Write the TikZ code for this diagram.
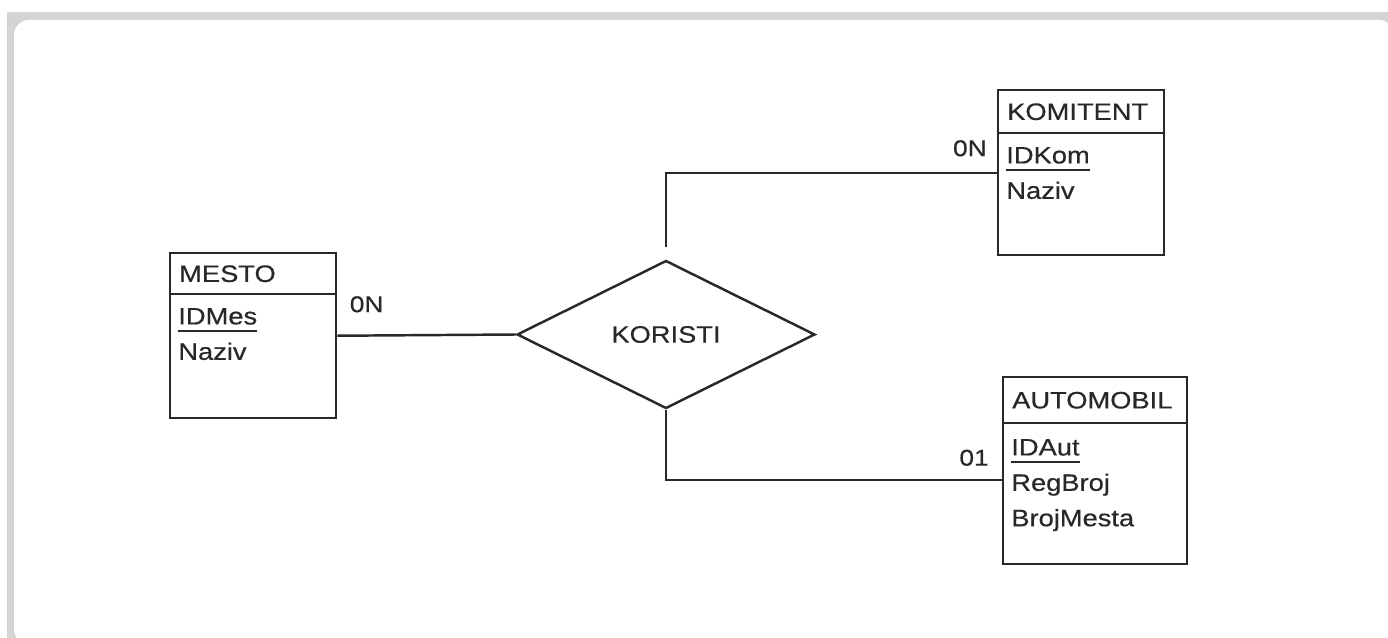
\documentclass[tikz,border=0pt]{standalone}
\usepackage{fontspec}
\setmainfont{Liberation Sans}[FakeStretch=1.15,FakeBold=0.5]
\usetikzlibrary{shapes.geometric,positioning}
\definecolor{Ink}{RGB}{40,40,40}
\definecolor{Frame}{RGB}{212,212,212}
% underlined key attribute
\newcommand{\pkey}[1]{\setbox0\hbox{#1}\rlap{\vrule width\wd0 height -3pt depth 4.2pt}#1}
\tikzset{
  ebox/.style={rectangle,draw=Ink,line width=1.4pt,fill=white,anchor=north west,
               inner sep=0pt},
  ehead/.style={rectangle,draw=Ink,line width=1.4pt,anchor=north west,
                inner xsep=0.18cm,inner ysep=0pt,align=left,text=Ink,
                font=\fontsize{13.5}{16}\selectfont},
  eattr/.style={inner sep=0pt,text height=10pt,text depth=3.5pt,text=Ink,
                font=\fontsize{13.5}{16}\selectfont},
  rel/.style={diamond,draw=Ink,line width=1.4pt,fill=white,inner sep=0pt,
              text=Ink,font=\fontsize{13.5}{16}\selectfont},
  elink/.style={draw=Ink,line width=1.4pt},
  card/.style={inner sep=0pt,text=Ink,font=\fontsize{13}{15}\selectfont},
}

\begin{document}
\begin{tikzpicture}
  \useasboundingbox (0,0) rectangle (27.76,-12.76);
  % grey page edge
  \fill[Frame] (0.14,-0.24) rectangle (27.76,-12.76);
  \fill[white,rounded corners=0.3cm] (0.28,-0.40) rectangle (27.88,-12.88);
  %
  \node[ebox,minimum width=3.32cm,minimum height=3.30cm] (mesto) at (3.38,-5.04) {};
  \node[ehead,text width=2.96cm,minimum height=0.82cm] (mesto-h) at (mesto.north west) {MESTO};
  \node[eattr,below right=0.22cm and 0.18cm of mesto-h.south west] (mesto-1) {\pkey{IDMes}};
  \node[eattr,below=0.22cm of mesto-1.south west,anchor=north west] (mesto-2) {Naziv};
  %
  \node[ebox,minimum width=3.32cm,minimum height=3.30cm] (komitent) at (19.94,-1.78) {};
  \node[ehead,text width=2.96cm,minimum height=0.86cm] (komitent-h) at (komitent.north west) {KOMITENT};
  \node[eattr,below right=0.22cm and 0.18cm of komitent-h.south west] (komitent-1) {\pkey{IDKom}};
  \node[eattr,below=0.22cm of komitent-1.south west,anchor=north west] (komitent-2) {Naziv};
  %
  \node[ebox,minimum width=3.68cm,minimum height=3.74cm] (automobil) at (20.04,-7.52) {};
  \node[ehead,text width=3.32cm,minimum height=0.92cm] (automobil-h) at (automobil.north west) {AUTOMOBIL};
  \node[eattr,below right=0.26cm and 0.18cm of automobil-h.south west] (automobil-1) {\pkey{IDAut}};
  \node[eattr,below=0.22cm of automobil-1.south west,anchor=north west] (automobil-2) {RegBroj};
  \node[eattr,below=0.22cm of automobil-2.south west,anchor=north west] (automobil-3) {BrojMesta};
  %
  \node[rel,minimum width=5.96cm,minimum height=2.96cm] (koristi) at (13.32,-6.69) {KORISTI};
  %
  \coordinate (automobil-in) at ([yshift=-0.19cm]automobil.west);
  \draw[elink] (mesto.east) -- (koristi.west);
  \draw[elink,shorten <=0.24cm] (koristi.north) |- (komitent.west);
  \draw[elink] (koristi.south) |- (automobil-in);
  %
  \node[card,above right=0.46cm and 0.24cm of mesto.east] {0N};
  \node[card,above left=0.32cm and 0.2cm of komitent.west] {0N};
  \node[card,above left=0.28cm and 0.26cm of automobil-in] {01};
\end{tikzpicture}
\end{document}
